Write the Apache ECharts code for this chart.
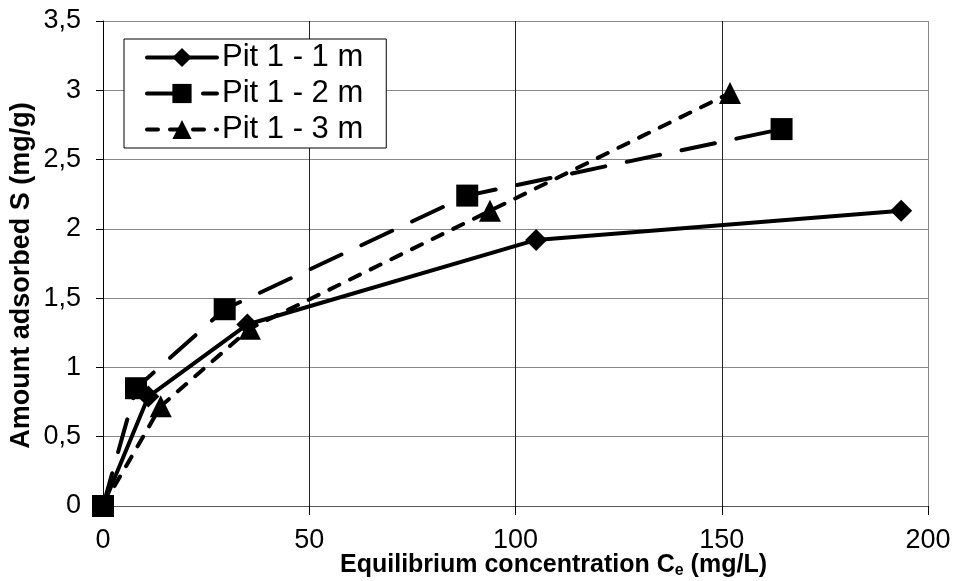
<!DOCTYPE html>
<html>
<head>
<meta charset="utf-8">
<script src="https://cdn.jsdelivr.net/npm/echarts@6/dist/echarts.min.js"></script>
<style>
html,body{margin:0;padding:0;background:#fff;}
#chart{width:955px;height:581px;}
</style>
</head>
<body>
<div id="chart"></div>
<script>
// Data
const seriesNames = ['Pit 1 - 1 m', 'Pit 1 - 2 m', 'Pit 1 - 3 m'];
const ce1 = [0, 11, 35, 105, 193.5];
const s1  = [0, 0.79, 1.31, 1.92, 2.13];
const ce2 = [0, 8, 29.5, 88.3, 164.5];
const s2  = [0, 0.85, 1.42, 2.24, 2.72];
const ce3 = [0, 14, 35.6, 93.8, 152];
const s3  = [0, 0.72, 1.28, 2.13, 2.98];
const xTicks = [0, 50, 100, 150, 200];
const yTicks = [0, 0.5, 1, 1.5, 2, 2.5, 3, 3.5];

const FONT = "'Liberation Sans', Arial, sans-serif";
const pairs = (xs, ys) => xs.map((x, i) => [x, ys[i]]);

const chart = echarts.init(document.getElementById('chart'), null, {renderer: 'canvas'});

const mk = (name, data, symbol, lineType, size) => ({
  name: name,
  type: 'line',
  data: data,
  symbol: symbol,
  symbolSize: size,
  showSymbol: true,
  animation: false,
  itemStyle: {color: '#000'},
  lineStyle: {color: '#000', width: 4, type: lineType, cap: 'round'},
  emphasis: {disabled: true}
});

chart.setOption({
  backgroundColor: '#fff',
  animation: false,
  textStyle: {fontFamily: FONT},
  grid: {left: 103, right: 27, top: 21, bottom: 75, show: false, containLabel: false, outerBoundsMode: 'none'},
  legend: {
    orient: 'vertical',
    left: 124, top: 39,
    padding: [3, 23, 3, 21],
    itemWidth: 70, itemHeight: 24, itemGap: 5,
    backgroundColor: '#fff',
    borderColor: '#000', borderWidth: 1, borderRadius: 0,
    lineStyle: {width: 4},
    textStyle: {fontFamily: FONT, fontSize: 31, color: '#000'},
    data: seriesNames
  },
  xAxis: {
    type: 'value',
    min: xTicks[0], max: xTicks[xTicks.length - 1], interval: 50,
    name: '{b|Equilibrium concentration C}{s|e}{b| (mg/L)}',
    nameLocation: 'middle',
    nameGap: 45,
    nameMoveOverlap: false,
    nameTextStyle: {
      padding: [0, 0, 0, 76],
      rich: {
        b: {fontFamily: FONT, fontSize: 25, fontWeight: 'bold', color: '#000'},
        s: {fontFamily: FONT, fontSize: 16, fontWeight: 'bold', color: '#000', verticalAlign: 'bottom', padding: [12, 0, 0, 0]}
      }
    },
    axisLine: {show: true, lineStyle: {color: '#555', width: 1}},
    axisTick: {show: true, length: 9, lineStyle: {color: '#000', width: 1}},
    axisLabel: {fontFamily: FONT, fontSize: 27, color: '#000', margin: 21},
    splitLine: {show: true, lineStyle: {color: ['#888', '#222', '#222', '#222', '#888'], width: 1}}
  },
  yAxis: {
    type: 'value',
    min: yTicks[0], max: yTicks[yTicks.length - 1], interval: 0.5,
    name: 'Amount adsorbed S (mg/g)',
    nameLocation: 'middle',
    nameGap: 68,
    nameMoveOverlap: false,
    nameTextStyle: {fontFamily: FONT, fontSize: 27, fontWeight: 'bold', color: '#000', padding: [0, 24, 0, 0]},
    axisLine: {show: true, lineStyle: {color: '#000', width: 1}},
    axisTick: {show: true, length: 7, lineStyle: {color: '#000', width: 1}},
    axisLabel: {fontFamily: FONT, fontSize: 27, color: '#000', margin: 22,
      formatter: v => String(v).replace('.', ',')},
    splitLine: {show: true, lineStyle: {color: '#888', width: 1}}
  },
  series: [
    mk(seriesNames[0], pairs(ce1, s1), 'diamond', 'solid', 22),
    mk(seriesNames[1], pairs(ce2, s2), 'rect', [34, 22], 22),
    mk(seriesNames[2], pairs(ce3, s3), 'triangle', [11, 12], 22)
  ]
});
</script>
</body>
</html>
